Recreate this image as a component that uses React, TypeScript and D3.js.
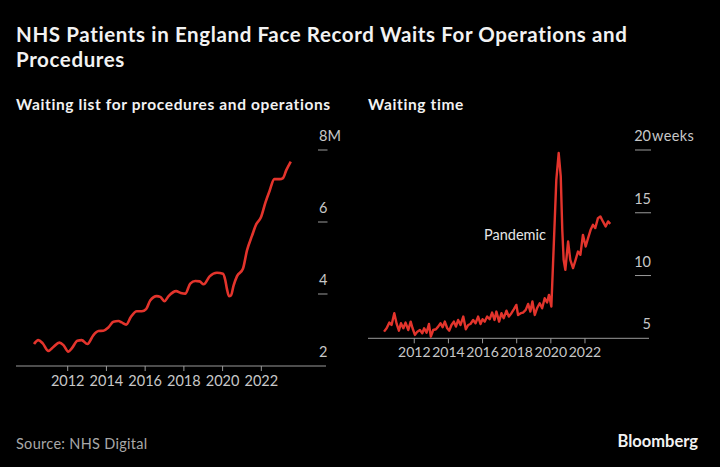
import React, { useEffect } from "react";
import * as d3 from "d3";

const W = 720;
const H = 467;

const TITLE_LINES = ["NHS Patients in England Face Record Waits For Operations and", "Procedures"];
const LEFT_SUBTITLE = "Waiting list for procedures and operations";
const RIGHT_SUBTITLE = "Waiting time";
const SOURCE = "Source: NHS Digital";
const YEAR_TICKS = [2012, 2014, 2016, 2018, 2020, 2022];
const LIST_TICKS = [2, 4, 6, 8];
const TIME_TICKS = [5, 10, 15, 20];

// Waiting list (millions), decimal year
const listYears = [
  2010.26, 2010.48, 2010.71, 2011.0, 2011.26, 2011.57, 2011.78, 2012.03, 2012.21, 2012.5,
  2012.72, 2013.02, 2013.33, 2013.59, 2013.84, 2014.1, 2014.36, 2014.62, 2014.79, 2015.02,
  2015.26, 2015.57, 2015.83, 2016.05, 2016.26, 2016.6, 2016.78, 2017.0, 2017.21, 2017.6,
  2017.84, 2018.07, 2018.33, 2018.59, 2018.81, 2019.02, 2019.33, 2019.71, 2020.02, 2020.14,
  2020.22, 2020.33, 2020.43, 2020.57, 2020.74, 2021.05, 2021.26, 2021.52, 2021.74, 2021.98,
  2022.21, 2022.43, 2022.67, 2022.95, 2023.12, 2023.29, 2023.52,
];
const listValues = [
  2.61, 2.72, 2.63, 2.42, 2.53, 2.65, 2.58, 2.4, 2.49, 2.7,
  2.72, 2.61, 2.86, 2.97, 2.98, 3.07, 3.23, 3.25, 3.21, 3.15,
  3.36, 3.52, 3.52, 3.58, 3.82, 3.94, 3.92, 3.8, 3.94, 4.08,
  4.03, 4.01, 4.29, 4.36, 4.35, 4.27, 4.49, 4.59, 4.56, 4.38,
  4.15, 3.94, 3.96, 4.24, 4.49, 4.7, 5.21, 5.62, 5.94, 6.13,
  6.54, 6.87, 7.19, 7.19, 7.22, 7.44, 7.68,
];

// Median waiting time (weeks), decimal year
const timeYears = [
  2010.23, 2010.38, 2010.54, 2010.67, 2010.83, 2010.97, 2011.1, 2011.22, 2011.36, 2011.49,
  2011.65, 2011.79, 2011.9, 2012.04, 2012.18, 2012.33, 2012.47, 2012.58, 2012.72, 2012.86,
  2012.97, 2013.11, 2013.27, 2013.4, 2013.54, 2013.66, 2013.79, 2013.93, 2014.05, 2014.18,
  2014.32, 2014.44, 2014.57, 2014.71, 2014.87, 2015.02, 2015.16, 2015.29, 2015.45, 2015.59,
  2015.74, 2015.88, 2016.0, 2016.13, 2016.27, 2016.42, 2016.56, 2016.7, 2016.81, 2016.97,
  2017.11, 2017.24, 2017.4, 2017.54, 2017.69, 2017.83, 2017.98, 2018.08, 2018.24, 2018.37,
  2018.53, 2018.67, 2018.8, 2018.92, 2019.06, 2019.19, 2019.35, 2019.49, 2019.64, 2019.78,
  2019.89, 2020.03, 2020.13, 2020.23, 2020.32, 2020.46, 2020.58, 2020.67, 2020.75, 2020.85,
  2021.01, 2021.14, 2021.3, 2021.45, 2021.59, 2021.73, 2021.88, 2022.04, 2022.18, 2022.33,
  2022.47, 2022.6, 2022.76, 2022.9, 2023.05, 2023.21, 2023.35, 2023.48,
];
const timeValues = [
  5.53, 5.8, 6.25, 6.06, 7.0, 6.14, 5.61, 6.2, 5.8, 6.25,
  5.66, 6.33, 5.8, 5.27, 5.53, 5.66, 5.4, 5.8, 5.45, 6.14,
  5.13, 5.66, 5.72, 5.93, 6.2, 5.88, 6.33, 5.8, 5.61, 6.06,
  6.33, 5.93, 6.46, 6.06, 6.73, 5.72, 6.06, 6.14, 6.46, 6.2,
  6.73, 6.14, 6.52, 6.33, 6.73, 6.52, 7.05, 6.46, 7.13, 6.33,
  7.0, 6.6, 7.2, 6.73, 7.0, 7.31, 7.66, 6.86, 7.0, 7.05,
  7.26, 7.74, 7.13, 7.93, 6.86, 7.39, 7.79, 7.39, 8.19, 7.85,
  8.46, 7.53, 10.98, 14.44, 17.6, 19.76, 17.9, 13.64, 11.25, 10.45,
  12.71, 11.25, 10.59, 11.25, 11.91, 11.65, 13.24, 12.31, 12.98, 13.64,
  14.04, 13.78, 14.57, 14.71, 14.31, 13.91, 14.31, 14.12,
];

const RED = "#e3342c";
const FONT = "Lato, 'Noto Sans', sans-serif";
const TICK_TEXT = "#c8c8c8";
const AXIS = "#9a9a9a";

export default function App() {
  useEffect(() => {
    document.body.style.margin = "0";
    document.body.style.background = "#000";
  }, []);

  // Left panel scales
  const xL = d3.scaleLinear().domain([2009.33, 2025.34]).range([16, 326]);
  const yL = d3.scaleLinear().domain([2, 8]).range([366, 150]);
  // Right panel scales
  const xR = d3.scaleLinear().domain([2009.29, 2025.75]).range([368, 649]);
  const yR = d3.scaleLinear().domain([5, 20]).range([338.3, 150]);

  const listData = listYears.map((y, i) => [y, listValues[i]] as [number, number]);
  const timeData = timeYears.map((y, i) => [y, timeValues[i]] as [number, number]);

  const lineL = d3
    .line<[number, number]>()
    .x((d) => xL(d[0]))
    .y((d) => yL(d[1]))
    .curve(d3.curveMonotoneX);
  const lineR = d3
    .line<[number, number]>()
    .x((d) => xR(d[0]))
    .y((d) => yR(d[1]))
    .curve(d3.curveLinear);

  const yTickRightL = 327.5;
  const yTickRightR = 651;

  return (
    <svg
      width={W}
      height={H}
      style={{ position: "absolute", left: 0, top: 0, background: "#000", fontFamily: FONT }}
    >
      <rect x={0} y={0} width={W} height={H} fill="#000" />
      {/* Title */}
      {TITLE_LINES.map((t, i) => (
        <text key={i} x={16} y={42 + i * 24.5} fill="#f2f2f2" fontSize={20.5} fontWeight={700} letterSpacing={0.62}>
          {t}
        </text>
      ))}
      <text x={16} y={110} fill="#f2f2f2" fontSize={15.5} fontWeight={700} letterSpacing={0.62}>
        {LEFT_SUBTITLE}
      </text>
      <text x={368} y={110} fill="#f2f2f2" fontSize={15.5} fontWeight={700} letterSpacing={0.62}>
        {RIGHT_SUBTITLE}
      </text>

      {/* Left panel axes */}
      {LIST_TICKS.map((v) => (
        <g key={v}>
          {v !== 2 && (
            <line x1={318} x2={yTickRightL} y1={yL(v)} y2={yL(v)} stroke={AXIS} strokeWidth={1} />
          )}
          <text x={yTickRightL} y={yL(v) - 9} fill={TICK_TEXT} fontSize={14.5} textAnchor="end">
            {v}
          </text>
          {v === 8 && (
            <text x={yTickRightL} y={yL(v) - 9} fill={TICK_TEXT} fontSize={14.5}>
              M
            </text>
          )}
        </g>
      ))}
      <line x1={16} x2={326} y1={yL(2)} y2={yL(2)} stroke={AXIS} strokeWidth={1} />
      {YEAR_TICKS.map((yr) => (
        <g key={yr}>
          <line x1={xL(yr)} x2={xL(yr)} y1={yL(2)} y2={yL(2) + 5} stroke={AXIS} strokeWidth={1} />
          <text x={xL(yr)} y={386} fill={TICK_TEXT} fontSize={14.5} textAnchor="middle">
            {yr}
          </text>
        </g>
      ))}
      <path d={lineL(listData) || ""} fill="none" stroke={RED} strokeWidth={2.6} strokeLinejoin="round" />

      {/* Right panel axes */}
      {TIME_TICKS.map((v) => (
        <g key={v}>
          {v !== 5 && (
            <line x1={635} x2={yTickRightR} y1={yR(v)} y2={yR(v)} stroke={AXIS} strokeWidth={1} />
          )}
          <text x={yTickRightR} y={yR(v) - 9} fill={TICK_TEXT} fontSize={14.5} textAnchor="end">
            {v}
          </text>
          {v === 20 && (
            <text x={yTickRightR + 1} y={yR(v) - 9} fill={TICK_TEXT} fontSize={14.5} letterSpacing={0.4}>
              weeks
            </text>
          )}
        </g>
      ))}
      <line x1={368} x2={649} y1={yR(5)} y2={yR(5)} stroke={AXIS} strokeWidth={1} />
      {YEAR_TICKS.map((yr) => (
        <g key={yr}>
          <line x1={xR(yr)} x2={xR(yr)} y1={yR(5)} y2={yR(5) + 5} stroke={AXIS} strokeWidth={1} />
          <text x={xR(yr)} y={357} fill={TICK_TEXT} fontSize={14} textAnchor="middle">
            {yr}
          </text>
        </g>
      ))}
      <path d={lineR(timeData) || ""} fill="none" stroke={RED} strokeWidth={2.4} strokeLinejoin="round" />
      <text x={484} y={240} fill="#e6e6e6" fontSize={14.5}>
        Pandemic
      </text>

      {/* Footer */}
      <text x={16} y={449} fill="#a8a8a8" fontSize={14.5} letterSpacing={0.3}>
        {SOURCE}
      </text>
      <text x={698} y={447} fill="#f2f2f2" fontSize={16.5} fontWeight={700} textAnchor="end">
        Bloomberg
      </text>
    </svg>
  );
}
